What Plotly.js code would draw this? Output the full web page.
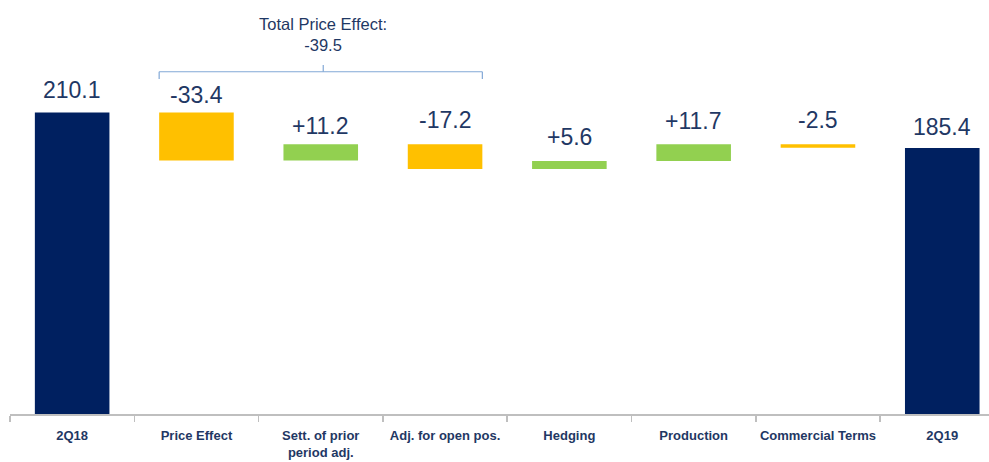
<!DOCTYPE html>
<html>
<head>
<meta charset="utf-8">
<script src="https://cdn.plot.ly/plotly-3.0.1.min.js"></script>
<style>html,body{margin:0;padding:0;background:#fff;}#chart{width:989px;height:462px;}</style>
</head>
<body>
<div id="chart"></div>
<script>
// ---- data ----
const categories = ["2Q18", "Price Effect", "Sett. of prior<br>period adj.", "Adj. for open pos.", "Hedging", "Production", "Commercial Terms", "2Q19"];
const values = [210.1, -33.4, 11.2, -17.2, 5.6, 11.7, -2.5, 185.4];
const measures = ["absolute", "relative", "relative", "relative", "relative", "relative", "relative", "absolute"];
const bracketText = "Total Price Effect:<br>-39.5";

// ---- style ----
const NAVY = "#002060", YELLOW = "#FFC000", GREEN = "#92D050", TEXT = "#1F3864";
const labelLift = [13, 8, 8, 14, 14, 13, 14, 11]; // px gap between bar top and label

// compute bar tops from data
let level = 0;
const tops = [];
values.forEach((v, i) => {
  if (measures[i] === "absolute") { level = v; tops.push(v); }
  else { const prev = level; level = prev + v; tops.push(Math.max(prev, level)); }
});
const labels = values.map((v, i) => measures[i] === "absolute" ? v.toFixed(1) : (v > 0 ? "+" : "") + v.toFixed(1));

const annotations = labels.map((t, i) => ({
  x: i, y: tops[i], xref: "x", yref: "y", text: t, showarrow: false,
  yanchor: "bottom", yshift: labelLift[i] - 5,
  font: {family: "Liberation Sans, Arial, sans-serif", size: 23, color: TEXT}
}));
annotations.push({
  x: 2.02, y: 1, xref: "x", yref: "paper", text: bracketText, showarrow: false,
  yanchor: "top", yshift: -13, align: "center",
  font: {family: "Liberation Sans, Arial, sans-serif", size: 16.5, color: TEXT}
});

const BR = "#82A8D6";
const yLine = 238.5, yDown = 233.4, yUp = 243.2;
const shapes = [
  {type: "line", xref: "x", yref: "y", x0: 0.7, x1: 3.3, y0: yLine, y1: yLine, line: {color: BR, width: 1.2}},
  {type: "line", xref: "x", yref: "y", x0: 0.7, x1: 0.7, y0: yLine, y1: yDown, line: {color: BR, width: 1.2}},
  {type: "line", xref: "x", yref: "y", x0: 3.3, x1: 3.3, y0: yLine, y1: yDown, line: {color: BR, width: 1.2}},
  {type: "line", xref: "x", yref: "y", x0: 2.02, x1: 2.02, y0: yLine, y1: yUp, line: {color: BR, width: 1.2}}
];

const trace = {
  type: "waterfall",
  x: categories,
  y: values,
  measure: measures,
  width: 0.6,
  connector: {visible: false},
  increasing: {marker: {color: GREEN}},
  decreasing: {marker: {color: YELLOW}},
  totals: {marker: {color: NAVY}},
  textinfo: "none",
  hoverinfo: "skip"
};

const layout = {
  width: 989, height: 462,
  margin: {l: 10, r: 0, t: 0, b: 48},
  paper_bgcolor: "#fff", plot_bgcolor: "#fff",
  showlegend: false,
  xaxis: {
    type: "category",
    range: [-0.5, 7.376],
    showline: true, linecolor: "#BFBFBF", linewidth: 1.5,
    ticks: "outside", tickson: "boundaries", ticklen: 6, tickcolor: "#BFBFBF", tickwidth: 1.5,
    tickangle: 0, ticklabelstandoff: 9,
    tickfont: {family: "Liberation Sans, Arial, sans-serif", size: 13, color: TEXT, weight: "bold"},
    showgrid: false, zeroline: false, fixedrange: true
  },
  yaxis: {
    range: [0, 288.5], visible: false, showgrid: false, zeroline: false, fixedrange: true
  },
  annotations: annotations,
  shapes: shapes
};

Plotly.newPlot("chart", [trace], layout, {displayModeBar: false, staticPlot: true});
</script>
</body>
</html>
